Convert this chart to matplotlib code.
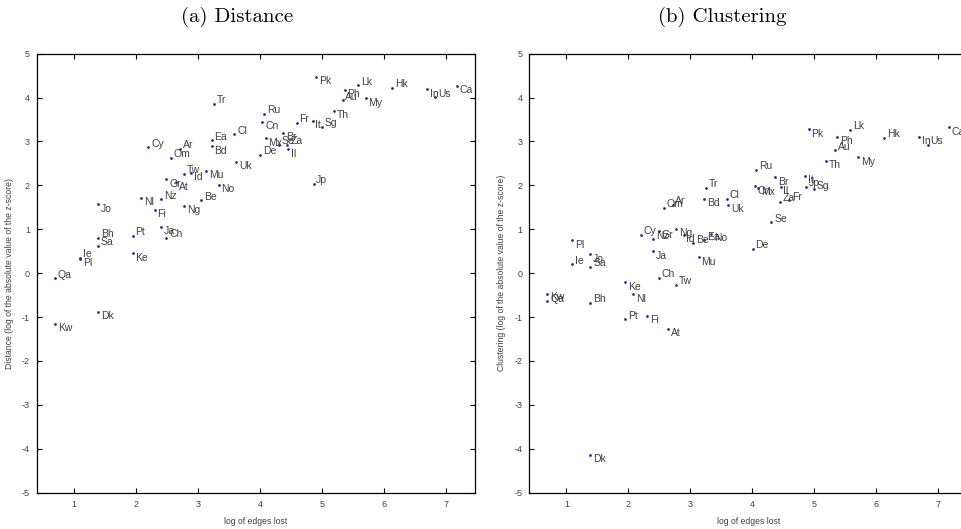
import numpy as np
import matplotlib
matplotlib.use("Agg")
import matplotlib.pyplot as plt

plt.rcParams['font.family'] = ['Liberation Sans', 'DejaVu Sans']
plt.rcParams['axes.unicode_minus'] = False

countries = ['Kw', 'Qa', 'Ie', 'Pl', 'Dk', 'Bh', 'Sa', 'Jo', 'Pt', 'Ke',
             'Nl', 'Cy', 'Fi', 'Ja', 'Nz', 'Gr', 'Ch', 'Om', 'At', 'Ar',
             'Tw', 'Ng', 'Id', 'Be', 'Mu', 'Ea', 'Bd', 'Tr', 'No', 'Cl',
             'Uk', 'De', 'Cn', 'Ru', 'Mx', 'Se', 'Br', 'Za', 'Il', 'Fr',
             'It', 'Jp', 'Pk', 'Sg', 'Th', 'Au', 'Ph', 'Lk', 'My', 'Hk',
             'In', 'Us', 'Ca']

# log of edges lost
edges_lost = [0.69, 0.69, 1.095, 1.095, 1.385, 1.385, 1.385, 1.385, 1.945, 1.945,
              2.08, 2.197, 2.30, 2.40, 2.40, 2.485, 2.485, 2.565, 2.64, 2.71,
              2.77, 2.77, 2.89, 3.045, 3.13, 3.22, 3.22, 3.255, 3.33, 3.585,
              3.61, 4.005, 4.035, 4.06, 4.09, 4.305, 4.37, 4.44, 4.455, 4.59,
              4.845, 4.86, 4.905, 4.995, 5.19, 5.33, 5.365, 5.58, 5.70, 6.125,
              6.69, 6.825, 7.17]

distance = [-1.155, -0.12, 0.35, 0.33, -0.88, 0.80, 0.62, 1.57, 0.85, 0.45,
            1.72, 2.87, 1.44, 1.055, 1.68, 2.14, 0.81, 2.63, 2.07, 2.83,
            2.27, 1.53, 2.28, 1.66, 2.33, 3.03, 2.89, 3.857, 2.02, 3.166,
            2.54, 2.69, 3.45, 3.63, 3.075, 2.92, 3.20, 2.93, 2.82, 3.42,
            3.47, 2.03, 4.47, 3.33, 3.70, 3.94, 4.18, 4.28, 3.98, 4.22,
            4.19, 4.01, 4.27]

clustering = [-0.63, -0.48, 0.20, 0.75, -4.14, -0.67, 0.14, 0.43, -1.05, -0.21,
              -0.48, 0.88, -0.97, 0.50, 0.77, 0.97, -0.11, 1.49, -1.26, 1.56,
              -0.26, 1.01, 0.87, 0.68, 0.36, 0.75, 1.69, 1.94, 0.90, 1.69,
              1.56, 0.56, 1.98, 2.35, 1.95, 1.16, 2.18, 1.62, 1.97, 1.66,
              2.21, 1.97, 3.28, 1.91, 2.56, 2.80, 3.10, 3.26, 2.64, 3.09,
              3.10, 2.92, 3.32]

# labels drawn under their dot (the rest go above)
below_a = {'Uk', 'Id', 'Mu', 'Gr', 'At', 'No', 'Nl', 'Jo', 'Fi', 'Ng', 'Ja',
           'Ke', 'Pl', 'Dk', 'Kw', 'Pk', 'Ph', 'My', 'In', 'Ca', 'Cn', 'It',
           'Th', 'Br', 'Mx', 'Il', 'Bd'}
below_b = {'Pl', 'Jo', 'Qa', 'Ke', 'Nl', 'Fi', 'At', 'Ja', 'Mu', 'Dk', 'Bd',
           'Uk', 'Gr', 'Ng', 'Id', 'No', 'Cn', 'Mx', 'Br', 'Il', 'It', 'Th',
           'Pk', 'Ph', 'My', 'In', 'Ca'}

dot_color = '#2a2a8c'
txt_color = '#404040'

fig = plt.figure(figsize=(9.62, 5.29), dpi=100)
ax1 = fig.add_axes([37/962, 36.3/529, 438/962, 439/529])
ax2 = fig.add_axes([529.3/962, 36.3/529, 438/962, 439/529])

panels = [(ax1, distance, below_a, 'Distance (log of the absolute value of the z-score)'),
          (ax2, clustering, below_b, 'Clustering (log of the absolute value of the z-score)')]

for ax, vals, below, ylab in panels:
    ax.scatter(edges_lost, vals, s=4, color=dot_color, linewidths=0, zorder=3)
    for name, xv, yv in zip(countries, edges_lost, vals):
        if name in below:
            ax.annotate(name, (xv, yv), xytext=(2, 0.5), textcoords='offset points',
                        va='top', ha='left', fontsize=7.5, color=txt_color)
        else:
            ax.annotate(name, (xv, yv), xytext=(2, -1), textcoords='offset points',
                        va='bottom', ha='left', fontsize=7.5, color=txt_color)
    ax.set_xlim(0.4, 7.465)
    ax.set_ylim(-5, 5)
    ax.set_xticks(np.arange(1, 8))
    ax.set_yticks(np.arange(-5, 6))
    ax.tick_params(direction='in', top=True, right=True, length=3.5, width=0.8,
                   labelsize=6.5, labelcolor='#404040', pad=5)
    for sp in ax.spines.values():
        sp.set_linewidth(0.9)
    ax.set_xlabel('log of edges lost', fontsize=6.2, color='#404040', labelpad=6)
    ax.set_ylabel(ylab, fontsize=6.2, color='#404040', labelpad=6)

fig.text(237/962, 1 - 17/529, '(a) Distance', ha='center', va='center',
         fontsize=15, family='cmr10')
fig.text(722/962, 1 - 17/529, '(b) Clustering', ha='center', va='center',
         fontsize=15, family='cmr10')

fig.savefig('out.png', dpi=100)
